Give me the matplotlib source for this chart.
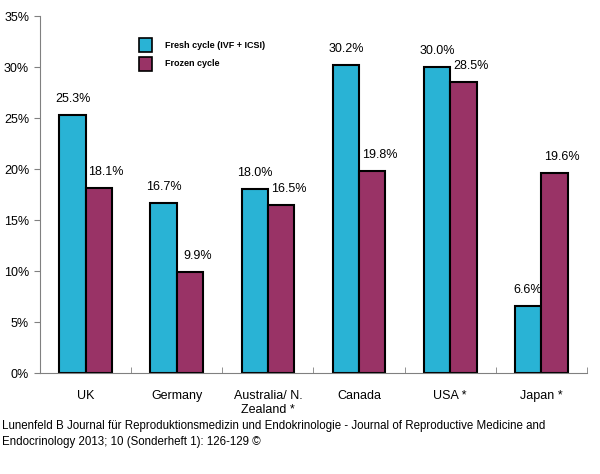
import numpy as np
import matplotlib
matplotlib.use("Agg")
import matplotlib.pyplot as plt
from matplotlib.patches import Rectangle

plt.rcParams['font.family'] = ['Liberation Sans', 'DejaVu Sans']

countries = ["UK", "Germany", "Australia/ N.\nZealand *", "Canada", "USA *", "Japan *"]
fresh = [25.3, 16.7, 18.0, 30.2, 30.0, 6.6]
frozen = [18.1, 9.9, 16.5, 19.8, 28.5, 19.6]
yticks = [0, 5, 10, 15, 20, 25, 30, 35]

cyan = "#29B3D5"
purple = "#993366"

fig = plt.figure(figsize=(6, 4.74), dpi=100)
ax = fig.add_axes([0.067, 0.213, 0.911, 0.753])

x = np.arange(len(countries))
w = 0.29
b1 = ax.bar(x - w / 2, fresh, w, color=cyan, edgecolor="black", linewidth=1.5)
b2 = ax.bar(x + w / 2, frozen, w, color=purple, edgecolor="black", linewidth=1.5)

for bars, vals, dx in ((b1, fresh, 0.0), (b2, frozen, 0.08)):
    for r, v in zip(bars, vals):
        ax.text(r.get_x() + r.get_width() / 2 + dx, v + 1.0, f"{v:.1f}%",
                ha="center", va="bottom", fontsize=9)

ax.set_xlim(-0.5, len(countries) - 0.5)
ax.set_ylim(0, 35)
ax.set_yticks(yticks)
ax.set_yticklabels([f"{t}%" for t in yticks], fontsize=9)
ax.set_xticks(x)
ax.set_xticklabels(countries, fontsize=9, linespacing=1.25, va="top")
ax.set_xticks(np.arange(len(countries) + 1) - 0.5, minor=True)
ax.tick_params(axis="x", which="major", length=0, pad=12)
ax.tick_params(axis="x", which="minor", length=4, direction="in", color="#808080")
ax.tick_params(axis="y", length=4, color="#808080", pad=4)
for s in ("top", "right"):
    ax.spines[s].set_visible(False)
for s in ("left", "bottom"):
    ax.spines[s].set_color("#808080")

# legend
for i, (lab, col) in enumerate((("Fresh cycle (IVF + ICSI)", cyan), ("Frozen cycle", purple))):
    y0 = 0.890 - i * 0.039
    fig.patches.append(Rectangle((0.231, y0), 0.022, 0.029, transform=fig.transFigure,
                                 facecolor=col, edgecolor="black", linewidth=1.2))
    fig.text(0.275, y0 + 0.0145, lab, fontsize=6.5, fontweight="bold", va="center")

fig.text(0.003, 0.084, "Lunenfeld B Journal für Reproduktionsmedizin und Endokrinologie - Journal of Reproductive Medicine and\n"
         "Endocrinology 2013; 10 (Sonderheft 1): 126-129 ©", fontsize=8.3, va="center", linespacing=1.45)

fig.savefig("out.png", dpi=100)
